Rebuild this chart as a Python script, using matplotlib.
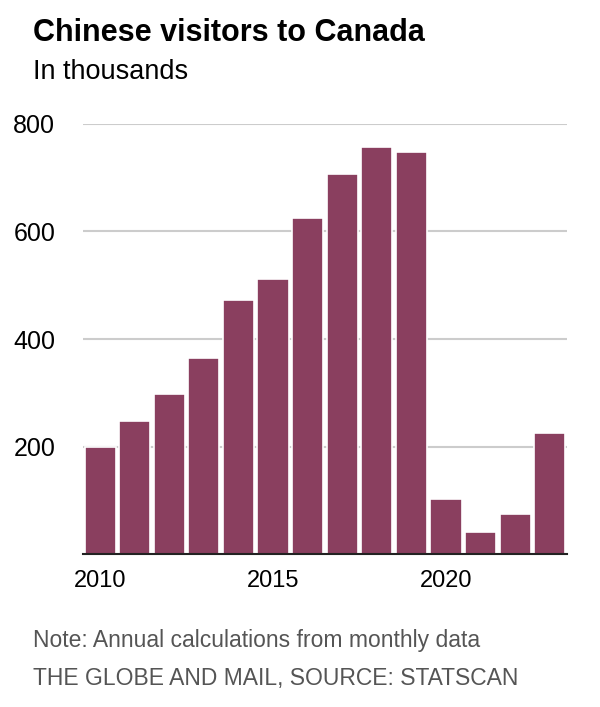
import matplotlib
matplotlib.use("Agg")
import matplotlib.pyplot as plt

years = list(range(2010, 2024))
visitors = [199, 248, 298, 365, 472, 511, 625, 707, 757, 748, 102, 41, 74, 226]
yticks = [200, 400, 600, 800]
xticks = [2010, 2015, 2020]

title = "Chinese visitors to Canada"
subtitle = "In thousands"
note = "Note: Annual calculations from monthly data"
credit = "THE GLOBE AND MAIL, SOURCE: STATSCAN"

plt.rcParams['font.family'] = ['Liberation Sans', 'DejaVu Sans']

fig = plt.figure(figsize=(6, 7.07), dpi=100)
ax = fig.add_axes([0.138, 0.216, 0.807, 0.609])

ax.bar(years, visitors, width=0.9, color='#8a3f5f', edgecolor='white', linewidth=1.2, zorder=2)

ax.set_xlim(2009.5, 2023.5)
ax.set_ylim(0, 800)
ax.set_yticks(yticks)
ax.set_xticks(xticks)
ax.yaxis.grid(True, color='#cccccc', linewidth=1.5, zorder=0)
ax.set_axisbelow(True)
for s in ['top', 'right', 'left']:
    ax.spines[s].set_visible(False)
ax.spines['bottom'].set_color('#222222')
ax.spines['bottom'].set_linewidth(1.5)
ax.spines['bottom'].set_zorder(3)

ax.tick_params(axis='y', length=0, pad=50, labelsize=18)
for lab in ax.get_yticklabels():
    lab.set_horizontalalignment('left')
ax.tick_params(axis='x', length=0, pad=11, labelsize=17)

fig.text(0.055, 0.953, title, fontsize=22, fontweight='bold', va='center', ha='left')
fig.text(0.055, 0.898, subtitle, fontsize=19.5, va='center', ha='left')
fig.text(0.055, 0.094, note, fontsize=16.5, color='#555555', va='center', ha='left')
fig.text(0.055, 0.041, credit, fontsize=16.5, color='#555555', va='center', ha='left')

fig.savefig('out.png', dpi=100)
